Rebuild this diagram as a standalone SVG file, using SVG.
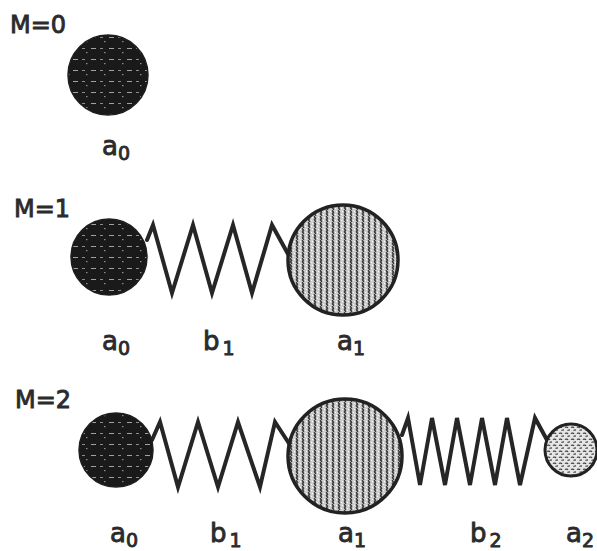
<svg xmlns="http://www.w3.org/2000/svg" width="597" height="551" viewBox="0 0 597 551">
<style>
.lbl{font-family:"DejaVu Sans","Liberation Sans",sans-serif;font-size:26px;fill:#2b2b2b;stroke:#2b2b2b;stroke-width:0.9}
.sub{font-size:19px}
.title{font-family:"DejaVu Sans","Liberation Sans",sans-serif;font-size:24px;fill:#2b2b2b;stroke:#2b2b2b;stroke-width:0.9}
.spring{fill:none;stroke:#262626;stroke-width:4;stroke-linejoin:miter;stroke-linecap:round}
.dark{fill:url(#tex0);stroke:#1e1e1e;stroke-width:1.5}
.mid{fill:url(#tex1);stroke:#222;stroke-width:3.5}
.light{fill:url(#tex2);stroke:#222;stroke-width:3}
</style>
<defs>
<pattern id="tex0" width="18" height="11" patternUnits="userSpaceOnUse">
<rect width="18" height="11" fill="#1a1a1a"/>
<rect x="1" y="4" width="5" height="1" fill="#ffffff" opacity="0.6"/>
<rect x="10" y="4" width="3" height="1" fill="#ffffff" opacity="0.5"/>
<rect x="14" y="8" width="1.5" height="1.2" fill="#ffffff" opacity="0.5"/>
</pattern>
<pattern id="tex1" width="6" height="6" patternUnits="userSpaceOnUse">
<rect width="6" height="6" fill="#cfcfcf"/>
<path d="M3,0 c-1.8,1 1.8,2 0,3 s1.8,2 0,3" fill="none" stroke="#3c3c3c" stroke-width="1.5"/>
<path d="M0,1.5 h1 M5.2,4.5 h0.8" fill="none" stroke="#fff" stroke-width="1"/>
</pattern>
<pattern id="tex2" width="6" height="6" patternUnits="userSpaceOnUse">
<rect width="6" height="6" fill="#e6e6e6"/>
<path d="M1,1 c1,1 2,-1 3,1 M3.5,4 c1,1 1.5,-1 2.5,0.5" fill="none" stroke="#444" stroke-width="1.2"/>
</pattern>
</defs>

<text class="title" x="10" y="33">M=0</text>
<text class="title" x="14" y="217">M=1</text>
<text class="title" x="15" y="408">M=2</text>

<g id="connectors">
<polyline id="m1-b1" class="spring" points="147,240 153,225 172,293 193,225 212,293 233,225 252,293 272,225 288,254"/>
<polyline id="m2-b1" class="spring" points="152,440 160,422 178,487 198,422 218,487 238,422 260,487 275,422 290,445"/>
<polyline id="m2-b2" class="spring" points="402,435 408,418 420,485 432,418 445,485 457,418 470,485 482,418 495,485 507,418 520,485 535,418 547,440"/>
</g>

<g id="m0-a0">
<circle class="dark" cx="108" cy="75" r="40"/>
<text class="lbl" x="102" y="155">a<tspan class="sub" dy="5">0</tspan></text>
</g>

<g id="m1-a0">
<circle class="dark" cx="109" cy="257" r="38"/>
<text class="lbl" x="102" y="350">a<tspan class="sub" dy="5">0</tspan></text>
</g>
<g id="m1-b1-label">
<text class="lbl" x="203" y="350">b<tspan class="sub" dx="3" dy="5">1</tspan></text>
</g>
<g id="m1-a1">
<circle class="mid" cx="343" cy="260" r="55"/>
<text class="lbl" x="337" y="350">a<tspan class="sub" dy="5">1</tspan></text>
</g>

<g id="m2-a0">
<circle class="dark" cx="116" cy="450" r="37"/>
<text class="lbl" x="110" y="542">a<tspan class="sub" dy="5">0</tspan></text>
</g>
<g id="m2-b1-label">
<text class="lbl" x="210" y="542">b<tspan class="sub" dx="3" dy="5">1</tspan></text>
</g>
<g id="m2-a1">
<circle class="mid" cx="345" cy="456" r="57"/>
<text class="lbl" x="338" y="542">a<tspan class="sub" dy="5">1</tspan></text>
</g>
<g id="m2-b2-label">
<text class="lbl" x="470" y="542">b<tspan class="sub" dx="3" dy="5">2</tspan></text>
</g>
<g id="m2-a2">
<circle class="light" cx="571" cy="450" r="26"/>
<text class="lbl" x="566" y="542">a<tspan class="sub" dy="5">2</tspan></text>
</g>
</svg>
